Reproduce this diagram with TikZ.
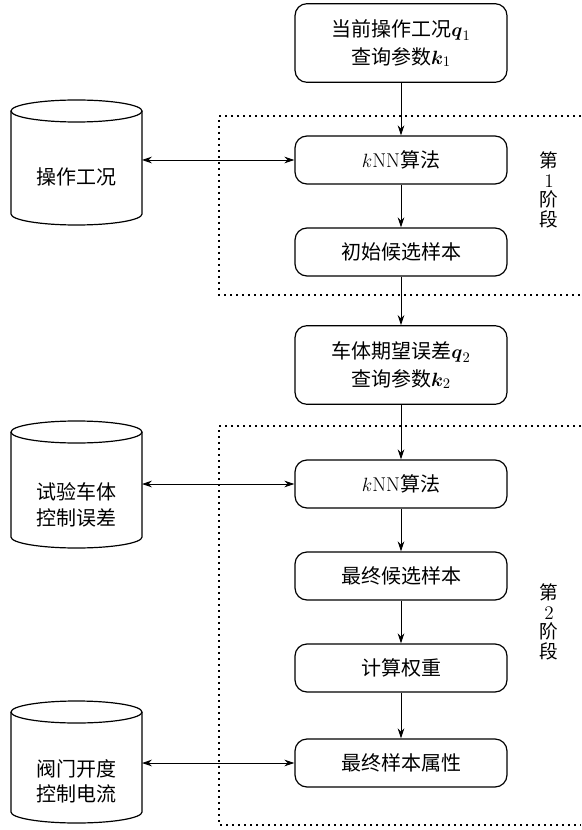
\documentclass[tikz,border=0pt]{standalone}
\usepackage{amsmath}
\usepackage{fontspec}
\newfontfamily\cjk{Noto Sans CJK SC}
\usetikzlibrary{arrows.meta}

\begin{document}
\begin{tikzpicture}[x=0.75pt,y=0.75pt,yscale=-1,xscale=1,
	proc/.style={draw,line width=0.9pt,rounded corners=9pt,minimum width=159pt,minimum height=36pt,align=center,inner sep=2pt,font=\cjk\fontsize{15}{21}\selectfont},
	tall/.style={minimum height=59pt},
	dbtxt/.style={align=center,inner sep=0pt,font=\cjk\fontsize{15}{19}\selectfont},
	cyl/.style={line width=0.9pt},
	stageframe/.style={dash pattern=on 1.2pt off 3.3pt,line width=1.2pt},
	flow/.style={-{Stealth[length=7.5pt,width=5pt]},line width=0.7pt},
	link/.style={{Stealth[length=7.5pt,width=5pt]}-{Stealth[length=7.5pt,width=5pt]},line width=0.7pt},
	phase/.style={align=center,inner sep=0pt,font=\cjk\fontsize{14}{14.8}\selectfont}]
	\useasboundingbox (0,0) rectangle (581,830);
	% dotted stage frames
	\draw[stageframe] (581,116) -- (219,116) -- (219,295) -- (581,295);
	\draw[stageframe] (581,426) -- (219,426) -- (219,825) -- (581,825);
	% process boxes
	\node (query1) [proc,tall] at (401,43) {当前操作工况$\boldsymbol{q}_1$\\查询参数$\boldsymbol{k}_1$};
	\node (knn1) [proc] at (401,160) {$k\mathrm{NN}$算法};
	\node (init) [proc] at (401,252) {初始候选样本};
	\node (query2) [proc,tall] at (401,365) {车体期望误差$\boldsymbol{q}_2$\\查询参数$\boldsymbol{k}_2$};
	\node (knn2) [proc] at (401,484) {$k\mathrm{NN}$算法};
	\node (final) [proc] at (401,576) {最终候选样本};
	\node (weight) [proc] at (401,668) {计算权重};
	\node (attr) [proc] at (401,763) {最终样本属性};
	% databases
	\draw[cyl] (76.5,111) ellipse [x radius=65.5,y radius=11];
	\draw[cyl] (11,111) -- (11,214) arc [start angle=180,end angle=0,x radius=65.5,y radius=11] -- (142,111);
	\draw[cyl] (76.5,432) ellipse [x radius=65.5,y radius=11];
	\draw[cyl] (11,432) -- (11,537) arc [start angle=180,end angle=0,x radius=65.5,y radius=11] -- (142,432);
	\draw[cyl] (76.5,712) ellipse [x radius=65.5,y radius=11];
	\draw[cyl] (11,712) -- (11,812) arc [start angle=180,end angle=0,x radius=65.5,y radius=11] -- (142,712);
	\node (ops) [dbtxt] at (76.5,177) {操作工况};
	\node (test) [dbtxt] at (76.5,505) {试验车体\\控制误差};
	\node (valve) [dbtxt] at (76.5,781) {阀门开度\\控制电流};
	\coordinate (ops-e) at (142,160);
	\coordinate (test-e) at (142,484);
	\coordinate (valve-e) at (142,763);
	% stage labels
	\node (phase1) [phase] at (549,190) {第\\$1$\\阶\\段};
	\node (phase2) [phase] at (549,622) {第\\$2$\\阶\\段};
	% connectors
	\draw[flow] (query1) -- (knn1);
	\draw[flow] (knn1) -- (init);
	\draw[flow] (init) -- (query2);
	\draw[flow] (query2) -- (knn2);
	\draw[flow] (knn2) -- (final);
	\draw[flow] (final) -- (weight);
	\draw[flow] (weight) -- (attr);
	\draw[link] (ops-e) -- (knn1.west);
	\draw[link] (test-e) -- (knn2.west);
	\draw[link] (valve-e) -- (attr.west);
\end{tikzpicture}
\end{document}
